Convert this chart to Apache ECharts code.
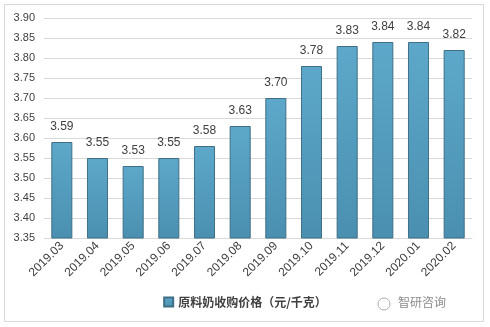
<!DOCTYPE html>
<html><head><meta charset="utf-8">
<script src="https://cdn.jsdelivr.net/npm/echarts@6/dist/echarts.min.js"></script>
<style>html,body{margin:0;padding:0;background:#fff}#c{width:490px;height:327px}</style>
</head><body><div id="c"></div>
<script>
const categories = ['2019.03','2019.04','2019.05','2019.06','2019.07','2019.08','2019.09','2019.10','2019.11','2019.12','2020.01','2020.02'];
const values = [3.59,3.55,3.53,3.55,3.58,3.63,3.70,3.78,3.83,3.84,3.84,3.82];
const seriesName = '原料奶收购价格（元/千克）';
const yMin = 3.35, yMax = 3.90, yStep = 0.05;

const chart = echarts.init(document.getElementById('c'));
chart.setOption({
  animation: false,
  backgroundColor: '#fff',
  graphic: [
    {type:'rect', shape:{x:4.5,y:4.5,width:479,height:317}, style:{fill:'none', stroke:'#d9d9d9', lineWidth:1}},
    {type:'text', left:398, top:296, style:{text:'智研咨询', fill:'#8c8c8c', font:'12px "Noto Sans CJK SC"'}},
    {type:'circle', shape:{cx:384, cy:304, r:6}, style:{fill:'none', stroke:'#b0b0b0', lineWidth:1}}
  ],
  grid: {left:44, right:18, top:18, bottom:89, containLabel:false},
  legend: {
    bottom: 14, left: 'center',
    itemWidth: 9, itemHeight: 9,
    textStyle: {fontSize: 12, fontWeight: 'bold', color: '#404040', fontFamily: '"Noto Sans CJK SC"'},
    data: [{name: seriesName, icon: 'rect'}]
  },
  xAxis: {
    type: 'category', data: categories,
    axisLine: {lineStyle: {color: '#d9d9d9'}},
    axisTick: {show: false},
    axisLabel: {rotate: 45, color: '#404040', fontSize: 12, margin: 6, fontFamily: 'Liberation Sans', interval: 0}
  },
  yAxis: {
    type: 'value', min: yMin, max: yMax, interval: yStep,
    axisLine: {show: false}, axisTick: {show: false},
    splitLine: {lineStyle: {color: '#d9d9d9'}},
    axisLabel: {color: '#404040', fontSize: 11, margin: 9, fontFamily: 'Liberation Sans', formatter: v => v.toFixed(2)}
  },
  series: [{
    name: seriesName, type: 'bar', data: values, barWidth: '59%',
    itemStyle: {
      color: new echarts.graphic.LinearGradient(0,0,0,1,[{offset:0,color:'#5da8ca'},{offset:1,color:'#4a8fb0'}]),
      borderColor: '#3f6f86', borderWidth: 1
    },
    label: {show: true, position: 'top', distance: 9, color: '#404040', fontSize: 12, fontFamily: 'Liberation Sans', formatter: p => p.value.toFixed(2)}
  }]
});
</script></body></html>
